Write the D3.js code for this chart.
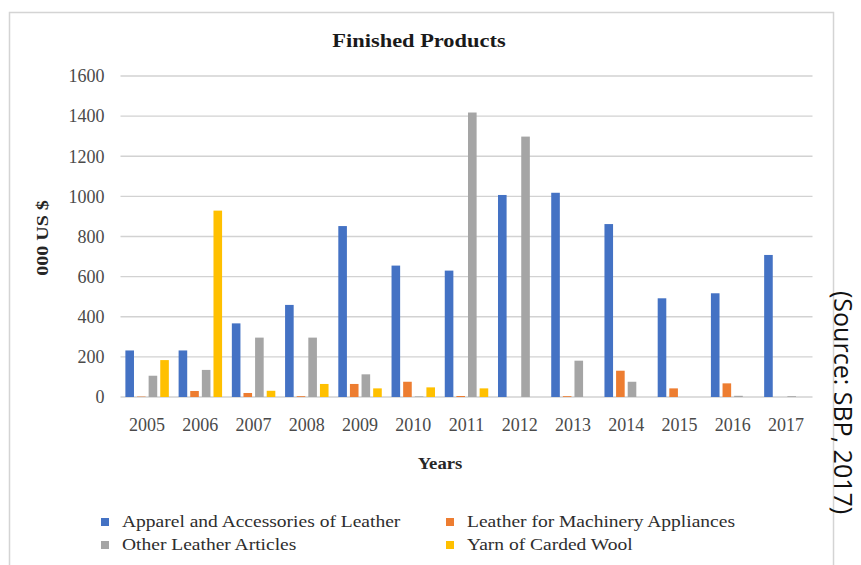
<!DOCTYPE html>
<html>
<head>
<meta charset="utf-8">
<script src="https://cdn.jsdelivr.net/npm/d3@7"></script>
<style>
  html, body { margin: 0; padding: 0; background: #fff; }
  svg { display: block; }
</style>
</head>
<body>
<svg id="chart" width="861" height="565"></svg>
<script>
// Export values of finished leather/wool products, thousand US $
const years = ["2005", "2006", "2007", "2008", "2009", "2010", "2011", "2012", "2013", "2014", "2015", "2016", "2017"];
const seriesNames = [
  "Apparel and Accessories of Leather",
  "Leather for Machinery Appliances",
  "Other Leather Articles",
  "Yarn of Carded Wool"
];
const apparel       = [232, 232, 367, 459, 852, 655, 630, 1007, 1018, 862, 492, 517, 708];
const machinery     = [2, 30, 20, 4, 65, 76, 5, 0, 4, 131, 43, 68, 0];
const otherArticles = [106, 135, 296, 296, 113, 3, 1418, 1298, 181, 76, 0, 6, 4];
const cardedWool    = [184, 929, 31, 65, 43, 48, 43, 0, 0, 0, 0, 0, 0];
const yTicks = [0, 200, 400, 600, 800, 1000, 1200, 1400, 1600];

const seriesValues = [apparel, machinery, otherArticles, cardedWool];
const colors = ["#4472C4", "#ED7D31", "#A5A5A5", "#FFC000"];

const svg = d3.select("#chart");
const serif = "'Liberation Serif', 'Times New Roman', serif";

// outer chart frame
svg.append("rect")
  .attr("x", 9.5).attr("y", 12.5)
  .attr("width", 824).attr("height", 570)
  .attr("fill", "none")
  .attr("stroke", "#d4d4d4")
  .attr("stroke-width", 1.5);

const plot = { left: 120.5, right: 812.5, top: 76, bottom: 397 };

const x0 = d3.scaleBand().domain(years).range([plot.left, plot.right]).padding(0);
const x1 = d3.scaleBand().domain(seriesNames).range([0, x0.bandwidth()])
  .paddingInner(0.26).paddingOuter(0.42);
const y = d3.scaleLinear().domain([0, 1600]).range([plot.bottom, plot.top]);

// horizontal gridlines
svg.append("g").selectAll("line").data(yTicks).join("line")
  .attr("x1", plot.left).attr("x2", plot.right)
  .attr("y1", d => y(d)).attr("y2", d => y(d))
  .attr("stroke", "#d2d2d2")
  .attr("stroke-width", 1.4);

// bars
const rows = years.map((yr, i) => ({ year: yr, vals: seriesNames.map((s, k) => ({ key: s, k, v: seriesValues[k][i] })) }));
const groups = svg.append("g").selectAll("g").data(rows).join("g")
  .attr("transform", d => `translate(${x0(d.year)},0)`);
groups.selectAll("rect").data(d => d.vals).join("rect")
  .attr("x", d => x1(d.key))
  .attr("width", x1.bandwidth())
  .attr("y", d => y(d.v))
  .attr("height", d => y(0) - y(d.v))
  .attr("fill", d => colors[d.k]);

// y axis labels
const yAxis = svg.append("g")
  .attr("transform", `translate(${plot.left},0)`)
  .call(d3.axisLeft(y).tickValues(yTicks).tickSize(0).tickPadding(16).tickFormat(d3.format("d")));
yAxis.select(".domain").remove();
yAxis.selectAll("text")
  .attr("font-family", serif).attr("font-size", 18).attr("fill", "#4a4a4a");

// x axis labels
const xAxis = svg.append("g")
  .attr("transform", `translate(0,${plot.bottom})`)
  .call(d3.axisBottom(x0).tickSize(0).tickPadding(21));
xAxis.select(".domain").remove();
xAxis.selectAll("text")
  .attr("font-family", serif).attr("font-size", 18).attr("fill", "#4a4a4a");

// text helper with horizontal stretch
function label(parent, txt, x, yy, opts) {
  const o = Object.assign({ size: 16, weight: "normal", anchor: "start", sx: 1, rotate: 0, fill: "#333", family: serif }, opts || {});
  return parent.append("text")
    .attr("transform", `translate(${x},${yy}) rotate(${o.rotate}) scale(${o.sx},1)`)
    .attr("font-family", o.family)
    .attr("font-size", o.size)
    .attr("font-weight", o.weight)
    .attr("text-anchor", o.anchor)
    .attr("fill", o.fill)
    .text(txt);
}

// title and axis titles
label(svg, "Finished Products", 419, 47, { size: 19, weight: "bold", anchor: "middle", sx: 1.18, fill: "#1a1a1a" });
label(svg, "Years", 440, 469, { size: 17, weight: "bold", anchor: "middle", sx: 1.1, fill: "#262626" });
label(svg, "000 US $", 48, 238, { size: 17, weight: "bold", anchor: "middle", sx: 1.18, rotate: -90, fill: "#262626" });

// legend
const legendPos = [
  { x: 101, y: 518 },
  { x: 446, y: 518 },
  { x: 101, y: 541 },
  { x: 446, y: 541 }
];
const legend = svg.append("g");
seriesNames.forEach((name, k) => {
  const p = legendPos[k];
  legend.append("rect")
    .attr("x", p.x).attr("y", p.y)
    .attr("width", 8).attr("height", 8)
    .attr("fill", colors[k]);
  label(legend, name, p.x + 21, p.y + 9, { size: 16, sx: 1.22, fill: "#2e2e2e" });
});

// source note on the right edge
label(svg, "(Source: SBP, 2017)", 834, 291, {
  size: 25, rotate: 90, fill: "#111",
  family: "'Open Sans', 'Noto Sans', sans-serif"
});
</script>
</body>
</html>
